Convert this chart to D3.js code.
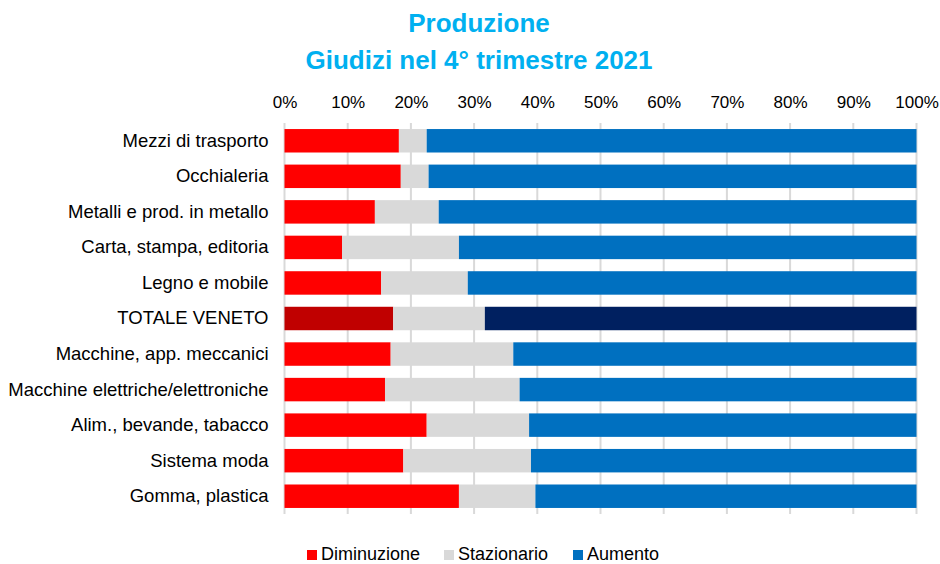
<!DOCTYPE html>
<html>
<head>
<meta charset="utf-8">
<script src="https://cdn.jsdelivr.net/npm/d3@7"></script>
<style>
  body { margin: 0; background: #fff; }
  svg { font-family: "Liberation Sans", Arial, sans-serif; }
</style>
</head>
<body>
<div id="chart"></div>
<script>
// categories, top to bottom
var categories = [
    "Mezzi di trasporto",
    "Occhialeria",
    "Metalli e prod. in metallo",
    "Carta, stampa, editoria",
    "Legno e mobile",
    "TOTALE VENETO",
    "Macchine, app. meccanici",
    "Macchine elettriche/elettroniche",
    "Alim., bevande, tabacco",
    "Sistema moda",
    "Gomma, plastica"
];
// percentages
var diminuzione = [18.1, 18.4, 14.3, 9.1, 15.3, 17.2, 16.8, 15.9, 22.5, 18.8, 27.6];
var stazionario = [4.4, 4.4, 10.1, 18.5, 13.7, 14.5, 19.4, 21.3, 16.2, 20.2, 12.1];
var aumento = [77.5, 77.2, 75.6, 72.4, 71.0, 68.3, 63.8, 62.8, 61.3, 61.0, 60.3];
var seriesNames = ["Diminuzione", "Stazionario", "Aumento"];
var tickValues = [0, 10, 20, 30, 40, 50, 60, 70, 80, 90, 100];

var width = 940, height = 564;
var margin = {top: 123, right: 24, bottom: 50, left: 284.5};

var colors = {Diminuzione: "#FF0000", Stazionario: "#D9D9D9", Aumento: "#0070C0"};
var totalColors = {Diminuzione: "#C00000", Stazionario: "#D9D9D9", Aumento: "#002060"};

var svg = d3.select("#chart").append("svg")
    .attr("width", width)
    .attr("height", height);

// title
svg.append("text")
    .attr("x", 479).attr("y", 32)
    .attr("text-anchor", "middle")
    .style("font-size", "26px").style("font-weight", "bold").style("fill", "#00B0F0")
    .text("Produzione");
svg.append("text")
    .attr("x", 479).attr("y", 69)
    .attr("text-anchor", "middle")
    .style("font-size", "26px").style("font-weight", "bold").style("fill", "#00B0F0")
    .text("Giudizi nel 4° trimestre 2021");

var x = d3.scaleLinear().domain([0, 100]).range([margin.left, 916.5]);
var y = d3.scaleBand().domain(categories).range([margin.top, 514]).paddingInner(0.34).paddingOuter(0.17);

// gridlines
svg.append("g").selectAll("line")
    .data(tickValues)
    .enter().append("line")
    .attr("x1", function (d) { return x(d); })
    .attr("x2", function (d) { return x(d); })
    .attr("y1", margin.top)
    .attr("y2", 514)
    .attr("stroke", "#D9D9D9")
    .attr("stroke-width", 2);

// top axis labels
var xAxis = d3.axisTop(x).tickValues(tickValues).tickSize(0).tickPadding(0)
    .tickFormat(function (d) { return d + "%"; });
var gx = svg.append("g").attr("transform", "translate(0,108)").call(xAxis);
gx.select(".domain").remove();
gx.selectAll("text").style("font-size", "17px").style("fill", "#000")
    .style("font-family", "'Liberation Sans', Arial, sans-serif");

// stacked data
var rows = categories.map(function (c, i) {
    return {cat: c, Diminuzione: diminuzione[i], Stazionario: stazionario[i], Aumento: aumento[i]};
});
var stack = d3.stack().keys(seriesNames);
var stacked = stack(rows);

svg.append("g").selectAll("g")
    .data(stacked)
    .enter().append("g")
    .each(function (s) {
        d3.select(this).selectAll("rect")
            .data(s)
            .enter().append("rect")
            .attr("x", function (d) { return x(d[0]); })
            .attr("width", function (d) { return x(d[1]) - x(d[0]); })
            .attr("y", function (d) { return y(d.data.cat); })
            .attr("height", y.bandwidth())
            .attr("fill", function (d) {
                return d.data.cat == "TOTALE VENETO" ? totalColors[s.key] : colors[s.key];
            });
    });

// category labels
var yAxis = d3.axisLeft(y).tickSize(0).tickPadding(16);
var gy = svg.append("g").attr("transform", "translate(" + margin.left + ",0)").call(yAxis);
gy.select(".domain").remove();
gy.selectAll("text").style("font-size", "18.5px").style("fill", "#000")
    .style("font-family", "'Liberation Sans', Arial, sans-serif");

// legend
var legendX = [307, 444, 573];
var legend = svg.append("g").selectAll("g")
    .data(seriesNames)
    .enter().append("g")
    .attr("transform", function (d, i) { return "translate(" + legendX[i] + ",550)"; });
legend.append("rect")
    .attr("width", 10).attr("height", 10)
    .attr("fill", function (d) { return colors[d]; });
legend.append("text")
    .attr("x", 14).attr("y", 10)
    .style("font-size", "18px").style("fill", "#000")
    .text(function (d) { return d; });
</script>
</body>
</html>
